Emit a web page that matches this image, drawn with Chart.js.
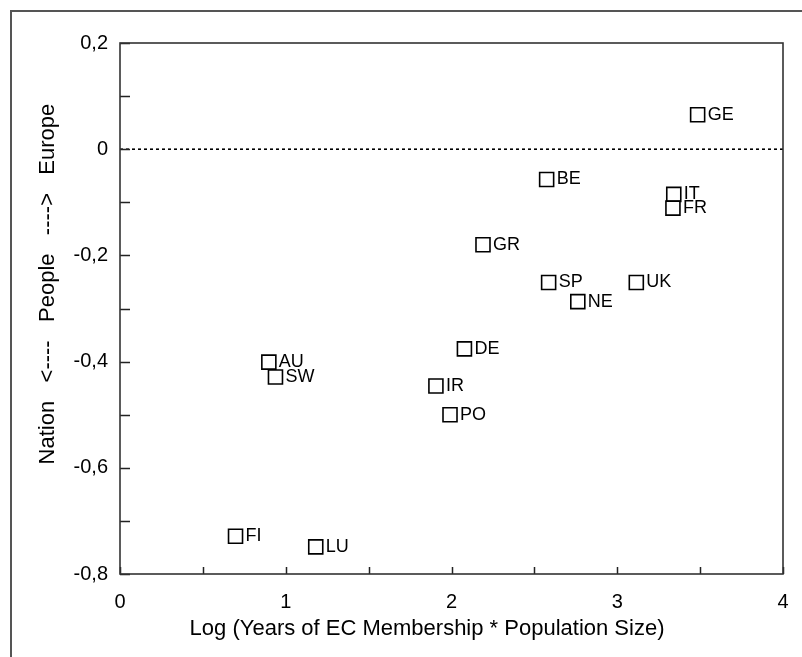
<!DOCTYPE html>
<html>
<head>
<meta charset="utf-8">
<script src="https://cdn.jsdelivr.net/npm/chart.js@4.4.0/dist/chart.umd.min.js"></script>
<style>
  html, body { margin: 0; padding: 0; background: #fff; }
  #wrap { width: 802px; height: 657px; position: relative; }
</style>
</head>
<body>
<div id="wrap"><canvas id="chart" width="802" height="657"></canvas></div>
<script>
// country codes and their coordinates
const countries = ['GE', 'BE', 'IT', 'FR', 'GR', 'SP', 'UK', 'NE', 'DE', 'AU', 'SW', 'IR', 'PO', 'FI', 'LU'];
const logSize   = [3.485, 2.574, 3.341, 3.336, 2.190, 2.586, 3.115, 2.762, 2.078, 0.898, 0.938, 1.906, 1.991, 0.697, 1.181];
const europeism = [0.065, -0.057, -0.085, -0.111, -0.180, -0.251, -0.251, -0.287, -0.376, -0.401, -0.429, -0.446, -0.500, -0.729, -0.749];

const xRange = [0, 4];
const yRange = [-0.8, 0.2];

const FONT = '"Liberation Sans", Arial, sans-serif';
const INK = '#222';

const points = countries.map((c, i) => ({ x: logSize[i], y: europeism[i], label: c }));

const fmtComma = (v) => {
    if (Math.abs(v) < 1e-9) return '0';
    return v.toFixed(1).replace('.', ',');
};

// frame, plot box, inner tick marks, dotted zero line, point labels
const decorations = {
    id: 'decorations',
    beforeDraw(chart) {
        const { ctx } = chart;
        ctx.save();
        ctx.strokeStyle = '#555';
        ctx.lineWidth = 2;
        ctx.beginPath();
        ctx.moveTo(11, chart.height);
        ctx.lineTo(11, 11);
        ctx.lineTo(chart.width, 11);
        ctx.stroke();
        ctx.restore();
    },
    beforeDatasetsDraw(chart) {
        const { ctx, chartArea: a, scales: { x, y } } = chart;
        ctx.save();
        // zero line
        const y0 = y.getPixelForValue(0);
        ctx.strokeStyle = '#000';
        ctx.lineWidth = 1.6;
        ctx.setLineDash([3, 3]);
        ctx.beginPath();
        ctx.moveTo(a.left, y0);
        ctx.lineTo(a.right, y0);
        ctx.stroke();
        ctx.setLineDash([]);

        // tick marks pointing inward
        ctx.strokeStyle = INK;
        ctx.lineWidth = 1.5;
        ctx.beginPath();
        y.ticks.forEach(t => {
            const py = Math.round(y.getPixelForValue(t.value)) + 0.5;
            ctx.moveTo(a.left, py);
            ctx.lineTo(a.left + 10, py);
        });
        x.ticks.forEach(t => {
            const px = Math.round(x.getPixelForValue(t.value)) + 0.5;
            ctx.moveTo(px, a.bottom);
            ctx.lineTo(px, a.bottom - 7);
        });
        ctx.stroke();

        // plot box
        ctx.lineWidth = 1.6;
        ctx.strokeStyle = '#333';
        ctx.strokeRect(a.left, a.top, a.right - a.left, a.bottom - a.top);
        ctx.restore();
    },
    afterDatasetsDraw(chart) {
        const { ctx } = chart;
        const meta = chart.getDatasetMeta(0);
        ctx.save();
        ctx.fillStyle = '#000';
        ctx.font = '18px ' + FONT;
        ctx.textAlign = 'left';
        ctx.textBaseline = 'middle';
        meta.data.forEach((el, i) => {
            ctx.fillText(countries[i], el.x + 10, el.y);
        });
        ctx.restore();
    }
};

new Chart(document.getElementById('chart'), {
    type: 'scatter',
    data: {
        datasets: [{
            data: points,
            pointStyle: 'rect',
            pointRadius: 9.9,
            pointHoverRadius: 9.9,
            pointBorderWidth: 1.6,
            pointBorderColor: '#000',
            pointBackgroundColor: '#fff'
        }]
    },
    options: {
        responsive: false,
        animation: false,
        devicePixelRatio: 1,
        layout: { padding: { top: 43, right: 19, left: 0, bottom: 0 } },
        plugins: {
            legend: { display: false },
            tooltip: { enabled: false }
        },
        scales: {
            x: {
                type: 'linear',
                min: xRange[0],
                max: xRange[1],
                afterFit: (s) => { s.height = 83; s.paddingLeft = 0; s.paddingRight = 0; },
                grid: { display: false, drawTicks: false },
                border: { display: false },
                ticks: {
                    stepSize: 0.5,
                    autoSkip: false,
                    maxRotation: 0,
                    padding: 16,
                    color: '#000',
                    font: { family: FONT, size: 20 },
                    callback: (v) => Number.isInteger(v) ? String(v) : ''
                },
                title: {
                    display: true,
                    text: 'Log (Years of EC Membership * Population Size)        ',
                    color: '#000',
                    font: { family: FONT, size: 22 },
                    padding: { top: 0, bottom: 15 }
                }
            },
            y: {
                type: 'linear',
                min: yRange[0],
                max: yRange[1],
                afterFit: (s) => { s.width = 120; },
                grid: { display: false, drawTicks: false },
                border: { display: false },
                ticks: {
                    stepSize: 0.1,
                    autoSkip: false,
                    padding: 12,
                    color: '#000',
                    font: { family: FONT, size: 20 },
                    callback: (v) => (Math.abs(Math.round(v * 10)) % 2 === 0) ? fmtComma(v) : ''
                },
                title: {
                    display: true,
                    text: '        Nation   <----   People   ---->   Europe',
                    color: '#000',
                    font: { family: FONT, size: 22 },
                    padding: { top: 35, bottom: 0 }
                }
            }
        }
    },
    plugins: [decorations]
});
</script>
</body>
</html>
